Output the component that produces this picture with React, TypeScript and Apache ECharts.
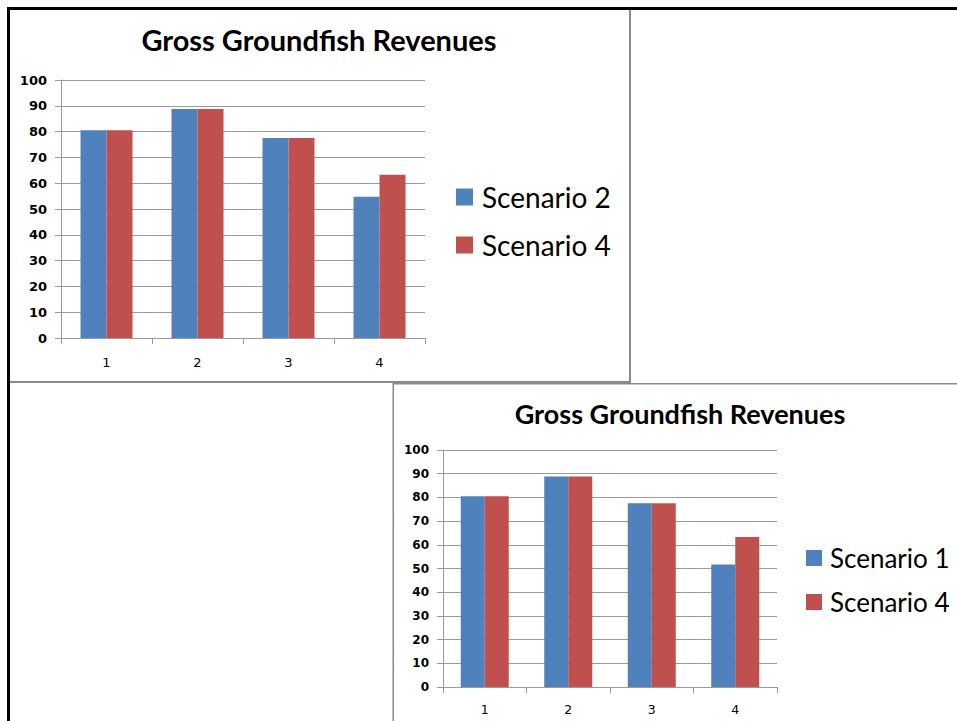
import React, { useEffect, useRef } from "react";
import * as echarts from "echarts";

const categories = ["1", "2", "3", "4"];
const topScenario2 = [80.5, 88.8, 77.5, 54.7];
const topScenario4 = [80.5, 88.8, 77.5, 63.3];
const bottomScenario1 = [80.5, 88.8, 77.5, 51.7];
const bottomScenario4 = [80.5, 88.8, 77.5, 63.3];
const yTicks = { min: 0, max: 100, interval: 10 };

const BLUE = "#4F81BD";
const RED = "#C0504D";
const GRID_GRAY = "#9a9a9a";

export default function App() {
  const ref = useRef<HTMLDivElement>(null);
  useEffect(() => {
    if (!ref.current) return;
    const chart = echarts.init(ref.current, undefined, { renderer: "svg" });

    const yAxisBase = (gridIndex: number, fontSize: number, margin: number) => ({
      type: "value",
      gridIndex,
      min: yTicks.min,
      max: yTicks.max,
      interval: yTicks.interval,
      axisLine: { show: true, lineStyle: { color: GRID_GRAY, width: 1 } },
      axisTick: { show: true, length: 6, lineStyle: { color: GRID_GRAY } },
      splitLine: { show: true, lineStyle: { color: GRID_GRAY, width: 1 } },
      axisLabel: {
        margin,
        color: "#000",
        fontFamily: "DejaVu Sans",
        fontWeight: "bold",
        fontSize,
      },
    });
    const xAxisBase = (gridIndex: number, fontSize: number, margin: number) => ({
      type: "category",
      gridIndex,
      data: categories,
      axisLine: { show: true, lineStyle: { color: GRID_GRAY, width: 1 } },
      axisTick: { show: true, length: 6, lineStyle: { color: GRID_GRAY } },
      axisLabel: {
        margin,
        color: "#000",
        fontFamily: "DejaVu Sans",
        fontSize,
      },
    });

    const option: any = {
      animation: false,
      backgroundColor: "#fff",
      title: [
        {
          text: "Gross Groundfish Revenues",
          left: 319,
          top: 25,
          textAlign: "center",
          padding: 0,
          textStyle: { fontFamily: "Lato", fontWeight: "bold", fontSize: 29, color: "#000" },
        },
        {
          text: "Gross Groundfish Revenues",
          left: 680,
          top: 400,
          textAlign: "center",
          padding: 0,
          textStyle: { fontFamily: "Lato", fontWeight: "bold", fontSize: 27, color: "#000" },
        },
      ],
      legend: [
        {
          orient: "vertical",
          left: 456,
          top: 182,
          padding: 0,
          itemWidth: 17,
          itemHeight: 17,
          itemGap: 18,
          icon: "rect",
          data: ["Scenario 2", "Scenario 4"],
          textStyle: {
            fontFamily: "Lato",
            fontSize: 28,
            lineHeight: 30,
            color: "#000",
            padding: [0, 0, 0, 4],
          },
        },
        {
          orient: "vertical",
          left: 806,
          top: 544,
          padding: 0,
          itemWidth: 16,
          itemHeight: 16,
          itemGap: 16,
          icon: "rect",
          data: ["Scenario 1", "Scenario 4"],
          textStyle: {
            fontFamily: "Lato",
            fontSize: 26,
            lineHeight: 28,
            color: "#000",
            padding: [0, 0, 0, 3],
          },
        },
      ],
      grid: [
        { left: 61, top: 80, width: 364, height: 258 },
        { left: 443, top: 450, width: 334, height: 237 },
      ],
      xAxis: [xAxisBase(0, 13, 18), xAxisBase(1, 12.5, 16)],
      yAxis: [yAxisBase(0, 13, 14), yAxisBase(1, 12, 14)],
      series: [
        {
          name: "Scenario 2",
          type: "bar",
          xAxisIndex: 0,
          yAxisIndex: 0,
          data: topScenario2,
          barWidth: 26,
          barGap: "0%",
          itemStyle: { color: BLUE },
        },
        {
          name: "Scenario 4",
          type: "bar",
          xAxisIndex: 0,
          yAxisIndex: 0,
          data: topScenario4,
          barWidth: 26,
          barGap: "0%",
          itemStyle: { color: RED },
        },
        {
          name: "Scenario 1",
          type: "bar",
          xAxisIndex: 1,
          yAxisIndex: 1,
          data: bottomScenario1,
          barWidth: 24,
          barGap: "0%",
          itemStyle: { color: BLUE },
        },
        {
          name: "Scenario 4",
          type: "bar",
          xAxisIndex: 1,
          yAxisIndex: 1,
          data: bottomScenario4,
          barWidth: 24,
          barGap: "0%",
          itemStyle: { color: RED },
        },
      ],
      graphic: [
        // outer black frame
        { type: "rect", shape: { x: 7, y: 7, width: 950, height: 3 }, style: { fill: "#000" } },
        { type: "rect", shape: { x: 7, y: 7, width: 3, height: 714 }, style: { fill: "#000" } },
        // top chart frame (right + bottom)
        { type: "rect", shape: { x: 629, y: 10, width: 2, height: 373 }, style: { fill: "#8a8a8a" } },
        { type: "rect", shape: { x: 10, y: 381, width: 621, height: 2 }, style: { fill: "#8a8a8a" } },
        // bottom chart frame (top + left)
        { type: "rect", shape: { x: 393, y: 383, width: 564, height: 1.5 }, style: { fill: "#8a8a8a" } },
        { type: "rect", shape: { x: 392.5, y: 383, width: 1.5, height: 338 }, style: { fill: "#8a8a8a" } },
      ],
    };
    chart.setOption(option);
    return () => chart.dispose();
  }, []);
  return (
    <div
      ref={ref}
      style={{ position: "fixed", left: 0, top: 0, width: 957, height: 721, background: "#fff" }}
    />
  );
}
